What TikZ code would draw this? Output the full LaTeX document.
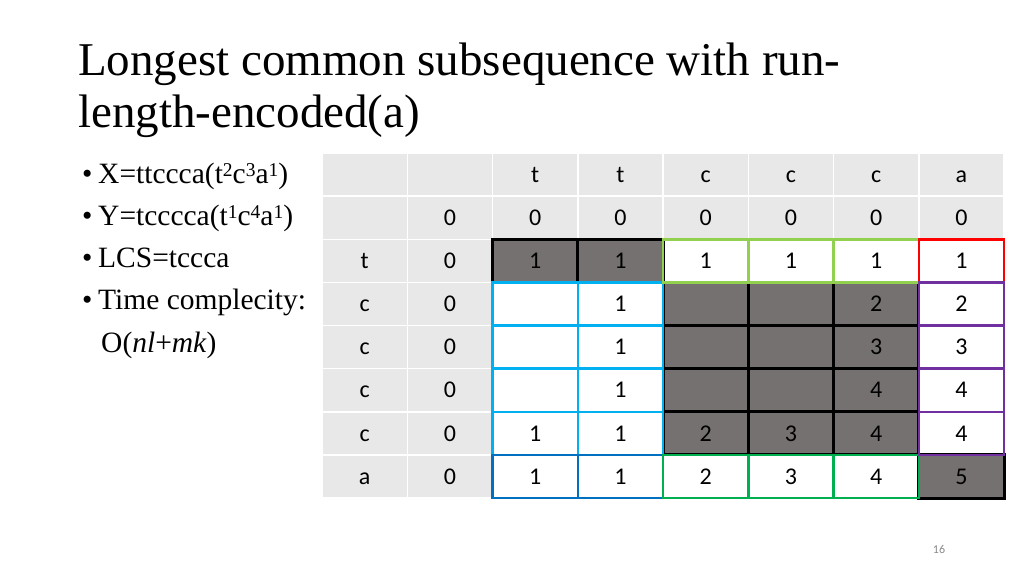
\documentclass[tikz,border=0pt]{standalone}
\usepackage{fontspec}
\setmainfont{Liberation Serif}
\newfontfamily\tabfont{Carlito}
\definecolor{hdrgray}{HTML}{E8E8E8}
\definecolor{darkcell}{HTML}{767171}
\definecolor{cyanb}{HTML}{00B0F0}
\definecolor{blueb}{HTML}{0070C0}
\definecolor{lgreenb}{HTML}{92D050}
\definecolor{greenb}{HTML}{00B050}
\definecolor{redb}{HTML}{FF0000}
\definecolor{purpleb}{HTML}{7030A0}
\definecolor{pagegray}{HTML}{898989}
\newcommand\mysup[1]{\raisebox{6.5pt}{\fontsize{19.5}{19.5}\selectfont #1}}
\tikzset{
  cell/.style={minimum width=85.25pt, minimum height=43.125pt, inner sep=0pt, outer sep=0pt,
    text height=15.5pt, text depth=0pt, text=black, font=\tabfont\fontsize{24}{24}\selectfont},
  hdr/.style={cell, fill=hdrgray, draw=white, line width=1.5pt},
  dat/.style={cell, fill=white},
  drk/.style={cell, fill=darkcell},
  bk/.style={draw=black, line width=3pt},
  cyb/.style={draw=cyanb, line width=2.5pt},
  blb/.style={draw=blueb, line width=2.5pt},
  lgb/.style={draw=lgreenb, line width=2.5pt},
  grb/.style={draw=greenb, line width=2.5pt},
  rdb/.style={draw=redb, line width=2.5pt},
  pub/.style={draw=purpleb, line width=2.5pt},
  title/.style={anchor=base west, inner sep=0pt, font=\fontsize{47}{47}\selectfont},
  bul/.style={anchor=base west, inner sep=0pt, font=\fontsize{29.5}{29.5}\selectfont},
}
\begin{document}
\begin{tikzpicture}[x=1pt,y=-1pt]
\useasboundingbox (0,0) rectangle (1024,576);
% title
\node[title] (t1) at (78,75) {Longest common subsequence with run-};
\node[title] (t2) at (78,127) {length-encoded(a)};
% bullets
\node[bul] (d1) at (82,183) {•};
\node[bul] (x1) at (98,183) {X=ttccca(t\mysup{2}c\mysup{3}a\mysup{1})};
\node[bul] (d2) at (82,225) {•};
\node[bul] (x2) at (98,225) {Y=tcccca(t\mysup{1}c\mysup{4}a\mysup{1})};
\node[bul] (d3) at (82,267) {•};
\node[bul] (x3) at (98,267) {LCS=tccca};
\node[bul] (d4) at (82,309) {•};
\node[bul] (x4) at (98,309) {Time complecity:};
\node[bul] (x5) at (101,352) {O(\textit{nl}+\textit{mk})};
% table
\foreach \row [count=\rr from 0] in {
  {{},{},t,t,c,c,c,a},
  {{},0,0,0,0,0,0,0},
  {t,0,1,1,1,1,1,1},
  {c,0,{},1,{},{},2,2},
  {c,0,{},1,{},{},3,3},
  {c,0,{},1,{},{},4,4},
  {c,0,1,1,2,3,4,4},
  {a,0,1,1,2,3,4,5}}{
  \foreach \v [count=\cc from 0] in \row {
    \pgfmathtruncatemacro\isdark{((\rr==2)&&(\cc>1)&&(\cc<4)) || ((\rr>2)&&(\rr<7)&&(\cc>3)&&(\cc<7)) || ((\rr==7)&&(\cc==7))}
    \ifnum\rr<2 \def\sty{hdr}\else\ifnum\cc<2 \def\sty{hdr}\else\ifnum\isdark=1 \def\sty{drk}\else\def\sty{dat}\fi\fi\fi
    \node[\sty] (c-\rr-\cc) at ({322+85.25*(\cc+0.5)},{153+43.125*(\rr+0.5)}) {\v};
  }
}
% borders
\foreach \p in {2-2,2-3,3-4,3-5,3-6,4-4,4-5,4-6,5-4,5-5,5-6,6-4,6-5,6-6,7-7}
  \draw[bk] (c-\p.north west) rectangle (c-\p.south east);
\foreach \p in {3-2,3-3,4-2,4-3,5-2,5-3,6-2,6-3}
  \draw[cyb] (c-\p.north west) rectangle (c-\p.south east);
\foreach \p in {7-2,7-3}
  \draw[blb] (c-\p.north west) rectangle (c-\p.south east);
\foreach \p in {2-4,2-5,2-6}
  \draw[lgb] (c-\p.north west) rectangle (c-\p.south east);
\foreach \p in {7-4,7-5,7-6}
  \draw[grb] (c-\p.north west) rectangle (c-\p.south east);
\foreach \p in {2-7}
  \draw[rdb] (c-\p.north west) rectangle (c-\p.south east);
\foreach \p in {3-7,4-7,5-7,6-7}
  \draw[pub] (c-\p.north west) rectangle (c-\p.south east);
% page number
\node[font=\tabfont\fontsize{12}{12}\selectfont, text=pagegray, inner sep=0pt] (pg) at (939,549) {16};
\end{tikzpicture}
\end{document}
